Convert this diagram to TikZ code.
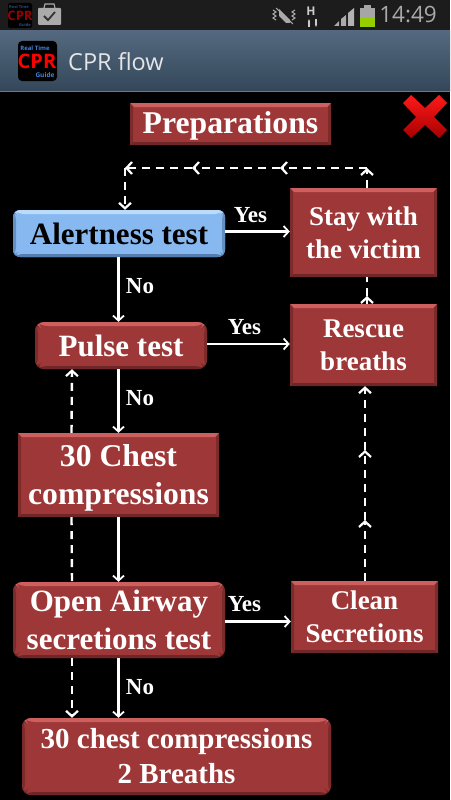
\documentclass[tikz,border=0pt]{standalone}
\usepackage{fontspec}
\setmainfont{Liberation Serif}
\setsansfont{Open Sans}
\usetikzlibrary{arrows.meta, calc, positioning}
\definecolor{boxred}{RGB}{158,56,56}
\definecolor{boxredtop}{RGB}{205,95,95}
\definecolor{boxredlow}{RGB}{110,38,38}
\definecolor{boxblue}{RGB}{135,185,240}
\definecolor{boxbluetop}{RGB}{185,220,250}
\definecolor{boxbluelow}{RGB}{85,125,175}
\definecolor{barblack}{RGB}{28,28,28}
\definecolor{bartop}{RGB}{84,105,127}
\definecolor{barlow}{RGB}{52,71,90}
\definecolor{iconblue}{RGB}{70,130,220}
\definecolor{icongray}{RGB}{170,170,170}
\definecolor{batgreen}{RGB}{150,205,0}
\tikzset{
  bevelbox/.style n args={3}{fill=#1, inner sep=0pt, align=center, text=white,
    path picture={
      \coordinate (nw) at (path picture bounding box.north west);
      \coordinate (ne) at (path picture bounding box.north east);
      \coordinate (sw) at (path picture bounding box.south west);
      \coordinate (se) at (path picture bounding box.south east);
      \fill[#2] (nw) -- (ne) -- ([shift={(-4pt,-4pt)}]ne) -- ([shift={(4pt,-4pt)}]nw) -- cycle;
      \fill[#3] (sw) -- (se) -- ([shift={(-3pt,3pt)}]se) -- ([shift={(3pt,3pt)}]sw) -- cycle;
      \fill[#3!70!#1] (ne) -- (se) -- ([shift={(-3pt,3pt)}]se) -- ([shift={(-3pt,-4pt)}]ne) -- cycle;
      \fill[#3!70!#1] (nw) -- (sw) -- ([shift={(3pt,3pt)}]sw) -- ([shift={(3pt,-4pt)}]nw) -- cycle;
    }},
  redbox/.style={bevelbox={boxred}{boxredtop}{boxredlow}},
  bluebox/.style={bevelbox={boxblue}{boxbluetop}{boxbluelow}, text=black, rounded corners=7pt},
  roundbox/.style={redbox, rounded corners=9pt},
  bigtext/.style={font=\fontsize{31.7}{38}\selectfont\bfseries},
  testtext/.style={font=\fontsize{31}{38}\selectfont\bfseries},
  midtext/.style={font=\fontsize{27}{33}\selectfont\bfseries},
  flowlabel/.style={font=\fontsize{23}{26}\selectfont\bfseries, text=white, inner sep=0pt},
  flow/.style={draw=white, line width=2.4pt, -{Straight Barb[length=5pt,width=11pt,line width=1.8pt]}},
  flowback/.style={draw=white, line width=2.4pt, dash pattern=on 8pt off 6pt, -{Straight Barb[length=5.5pt,width=12pt,line width=2.2pt]}},
}
\begin{document}
\begin{tikzpicture}[x=1pt,y=-1pt]
  \useasboundingbox (0,0) rectangle (450,800);
  \fill[black] (0,0) rectangle (450,800);
  % phone bars
  \fill[barblack] (0,0) rectangle (450,30);
  \shade[top color=bartop, bottom color=barlow] (0,31) rectangle (450,91);
  \draw[gray!60!bartop, line width=1pt] (0,91) -- (450,91);
  \node[font=\sffamily\fontsize{23.5}{24}\selectfont, text=white!90!black, anchor=west, inner sep=0pt] (title) at (68,62) {CPR flow};
  \node[font=\sffamily\fontsize{22.5}{25}\selectfont, text=icongray, anchor=east, inner sep=0pt] (clock) at (437,15) {14:49};
  % app icons
  \fill[black] (18,41) [rounded corners=4pt] rectangle (57,81);
  \node[font=\sffamily\bfseries\fontsize{6}{6}\selectfont, text=iconblue, inner sep=0pt] (realtime) at (35,48) {Real Time};
  \node[font=\sffamily\bfseries\fontsize{20}{20}\selectfont, text=red, inner sep=0pt] (cprmark) at (37,61) {CPR};
  \node[font=\sffamily\bfseries\fontsize{6.5}{6}\selectfont, text=iconblue, inner sep=0pt] (guide) at (45,75) {Guide};
  \fill[black] (8,3) [rounded corners=2pt] rectangle (32,28);
  \node[font=\sffamily\bfseries\fontsize{4}{4}\selectfont, text=iconblue!60!black, inner sep=0pt] (realtimesmall) at (19,7) {Real Time};
  \node[font=\sffamily\bfseries\fontsize{13}{13}\selectfont, text=red!60!black, inner sep=0pt] (cprsmall) at (20,16) {CPR};
  \node[font=\sffamily\bfseries\fontsize{4}{4}\selectfont, text=iconblue!60!black, inner sep=0pt] (guidesmall) at (25,25) {Guide};
  % status icons
  \fill[icongray] (38,8) [rounded corners=1pt] rectangle (61,25);
  \draw[icongray, line width=1.2pt] (44,8) -- (45,4) -- (54,4) -- (55,8);
  \draw[black!80, line width=1.8pt] (44,16) -- (48,20) -- (55,12);
  \draw[icongray, line width=1pt] (273,10) -- (276,12) -- (273,14) -- (276,16) -- (273,18) -- (276,20) (295,10) -- (292,12) -- (295,14) -- (292,16) -- (295,18) -- (292,20);
  \fill[icongray] (279,9) -- (290,20) -- (290,23) -- (286,23) -- (279,16) -- cycle;
  \draw[icongray, line width=1pt] (276,8) -- (293,24);
  \node[font=\sffamily\bfseries\fontsize{12}{12}\selectfont, text=icongray!60!white, inner sep=0pt] (hsdpa) at (311,11) {H};
  \draw[icongray!60, line width=1.2pt, -{Stealth[length=3pt]}] (309,27) -- (309,19);
  \draw[icongray!60, line width=1.2pt, -{Stealth[length=3pt]}] (316,19) -- (316,27);
  \fill[icongray] (334,26) -- (339,21) -- (339,26) -- cycle;
  \fill[icongray] (341,26) -- (341,19) -- (346,15) -- (346,26) -- cycle;
  \fill[gray!60] (348,26) -- (348,13) -- (354,8) -- (354,26) -- cycle;
  \fill[gray!70] (360,8) rectangle (375,27);
  \fill[gray!70] (364,5) rectangle (371,8);
  \fill[batgreen] (360,18) rectangle (375,27);
  % close mark
  \shade[top color=red!90!white, bottom color=red!65!black] (403,103) -- (411,95) -- (425,108) -- (439,95) -- (447,103) -- (434,117) -- (447,130) -- (439,138) -- (425,125) -- (411,138) -- (403,130) -- (416,117) -- cycle;
  % boxes
  \node[redbox, bigtext, minimum width=201pt, minimum height=42pt, text height=25.5pt] (prep) at (230.5,124) {Preparations};
  \node[bluebox, testtext, minimum width=212pt, minimum height=47pt] (alert) at (119,233.5) {Alertness test};
  \node[redbox, midtext, minimum width=147pt, minimum height=89pt] (stay) at (363.5,232.5) {Stay with\\the victim};
  \node[roundbox, testtext, minimum width=172pt, minimum height=47pt] (pulse) at (121,345.5) {Pulse test};
  \node[redbox, midtext, minimum width=147pt, minimum height=82pt] (rescue) at (363.5,345) {Rescue\\breaths};
  \node[redbox, bigtext, minimum width=201pt, minimum height=84pt, text height=65pt] (chest) at (118.5,475) {30 Chest\\compressions};
  \node[roundbox, testtext, minimum width=212pt, minimum height=76pt] (airway) at (119,620) {Open Airway\\secretions test};
  \node[redbox, midtext, minimum width=147pt, minimum height=72pt] (clean) at (364.5,617) {Clean\\Secretions};
  \node[roundbox, font=\fontsize{29}{35}\selectfont\bfseries, minimum width=309pt, minimum height=77pt] (final) at (176.5,756.5) {30 chest compressions\\2 Breaths};
  % solid flow
  \draw[flow] ([yshift=2pt]alert.east) -- ([yshift=2pt]alert.east -| stay.west);
  \draw[flow] ([yshift=1.5pt]pulse.east) -- ([yshift=1.5pt]pulse.east -| rescue.west);
  \draw[flow] ([yshift=-1.5pt]airway.east) -- ([yshift=-1.5pt]airway.east -| clean.west);
  \draw[flow] (alert.south -| chest.south) -- (pulse.north -| chest.south);
  \draw[flow] (pulse.south -| chest.south) -- (chest.north);
  \draw[flow] (chest.south) -- (airway.north -| chest.south);
  \draw[flow] (airway.south -| chest.south) -- (final.north -| chest.south);
  \node[flowlabel] (yesalert) at (250.5,215) {Yes};
  \node[flowlabel] (noalert) at (140,286) {No};
  \node[flowlabel] (yespulse) at (244.5,327) {Yes};
  \node[flowlabel] (nopulse) at (140,398) {No};
  \node[flowlabel] (yesairway) at (244.5,604) {Yes};
  \node[flowlabel] (noairway) at (140,687) {No};
  % dashed way back
  \coordinate (corner) at (125,168);
  \coordinate (turn) at (367,168);
  \coordinate (backa) at (280,168);
  \coordinate (backb) at (192,168);
  \coordinate (upa) at (365,520);
  \coordinate (upb) at (365,450);
  \coordinate (upc) at (367,296);
  \draw[flowback] ([xshift=-47pt]chest.north) -- ([xshift=-49pt]pulse.south);
  \draw[flowback, -] ([xshift=-47pt]chest.south) -- ([xshift=-47pt]airway.north);
  \draw[flowback] ([xshift=-47pt]airway.south) -- ([xshift=-47pt]airway.south |- final.north);
  \draw[flowback] (upa |- clean.north) -- (upa);
  \draw[flowback] (upa) -- (upb);
  \draw[flowback] (upb) -- (upb |- rescue.south);
  \draw[flowback] (turn |- rescue.north) -- (upc);
  \draw[flowback, -] (upc) -- (turn |- stay.south);
  \draw[flowback] (turn |- stay.north) -- (turn);
  \draw[flowback] (turn) -- (backa);
  \draw[flowback] (backa) -- (backb);
  \draw[flowback] (backb) -- (corner);
  \draw[flowback] (corner) -- (corner |- alert.north);
\end{tikzpicture}
\end{document}
